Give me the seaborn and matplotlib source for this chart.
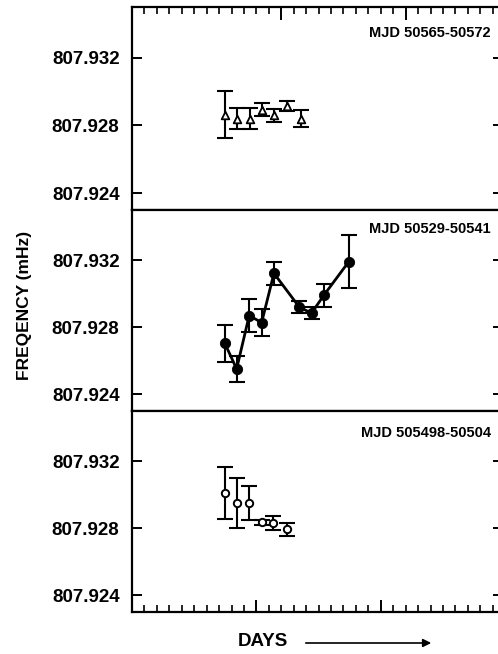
import matplotlib
matplotlib.use("Agg")
import matplotlib.pyplot as plt
import seaborn as sns
import pandas as pd
from matplotlib.ticker import FixedLocator, MultipleLocator, FormatStrFormatter, NullFormatter

# =========================
# DATA
# =========================
top_days = [7.47, 8.46, 9.48, 10.42, 11.41, 12.42, 13.55]
top_freq = [807.92864, 807.92839, 807.92839, 807.92894, 807.92860, 807.92917, 807.92840]
top_err = [0.00140, 0.00062, 0.00062, 0.00037, 0.00040, 0.00030, 0.00051]

mid_days = [7.47, 8.41, 9.42, 10.42, 11.41, 13.44, 14.43, 15.42, 17.43]
mid_freq = [807.92703, 807.92551, 807.92870, 807.92828, 807.93122,
            807.92921, 807.92884, 807.92991, 807.93192]
mid_err = [0.00110, 0.00077, 0.00098, 0.00080, 0.00067, 0.00036, 0.00037, 0.00070, 0.00160]

bot_days = [7.47, 8.41, 9.42, 10.42, 11.35, 12.42]
bot_freq = [807.93010, 807.92950, 807.92950, 807.92837, 807.92831, 807.92794]
bot_err = [0.00157, 0.00150, 0.00100, 0.00015, 0.00043, 0.00040]

panel_labels = ["MJD 50565-50572", "MJD 50529-50541", "MJD 505498-50504"]
ytick_vals = [807.924, 807.928, 807.932]

# =========================
# STYLE
# =========================
sns.set_theme(style="white")
plt.rcParams["font.family"] = ["Liberation Sans", "DejaVu Sans"]
plt.rcParams["font.weight"] = "bold"
plt.rcParams["axes.linewidth"] = 1.6
plt.rcParams["text.color"] = "black"
plt.rcParams["axes.labelcolor"] = "black"
plt.rcParams["xtick.color"] = "black"
plt.rcParams["ytick.color"] = "black"
plt.rcParams["axes.edgecolor"] = "black"

fig = plt.figure(figsize=(4.98, 6.54), dpi=100)

W, H = 498, 654
left = 132 / W
width = 367 / W
panels = [(7, 210), (210, 411), (411, 612)]
axes = []
for top_px, bot_px in panels:
    ax = fig.add_axes([left, 1 - bot_px / H, width, (bot_px - top_px) / H])
    axes.append(ax)

ax_top, ax_mid, ax_bot = axes

# top: open triangles
ax_top.errorbar(top_days, top_freq, yerr=top_err, fmt="none", ecolor="black",
                elinewidth=1.5, capsize=6, capthick=1.5, zorder=2)
sns.scatterplot(x=top_days, y=top_freq, ax=ax_top, marker="^", s=30,
                facecolor="white", edgecolor="black", linewidth=1.3, zorder=3)

# middle: filled circles joined by a line
mid_df = pd.DataFrame({"day": mid_days, "freq": mid_freq})
ax_mid.errorbar(mid_days, mid_freq, yerr=mid_err, fmt="none", ecolor="black",
                elinewidth=1.5, capsize=6, capthick=1.5, zorder=2)
sns.lineplot(data=mid_df, x="day", y="freq", ax=ax_mid, color="black",
             linewidth=2, sort=False, zorder=3)
sns.scatterplot(data=mid_df, x="day", y="freq", ax=ax_mid, marker="o", s=55,
                color="black", edgecolor="black", zorder=4)

# bottom: open circles
ax_bot.errorbar(bot_days, bot_freq, yerr=bot_err, fmt="none", ecolor="black",
                elinewidth=1.5, capsize=6, capthick=1.5, zorder=2)
sns.scatterplot(x=bot_days, y=bot_freq, ax=ax_bot, marker="o", s=28,
                facecolor="white", edgecolor="black", linewidth=1.4, zorder=3)

label_y = [0.874, 0.903, 0.893]
for ax, lab, ly in zip(axes, panel_labels, label_y):
    ax.set_xlim(0, 29.5)
    ax.set_ylim(807.923, 807.935)
    ax.set_xlabel("")
    ax.set_ylabel("")
    ax.yaxis.set_major_locator(FixedLocator(ytick_vals))
    ax.yaxis.set_major_formatter(FormatStrFormatter("%.3f"))
    ax.tick_params(axis="y", which="major", direction="in", left=True, right=True,
                   length=7, width=1.4, labelsize=13.5, pad=9, colors="black")
    ax.tick_params(axis="x", which="both", bottom=False, top=False, labelbottom=False)
    for lbl in ax.get_yticklabels():
        lbl.set_fontweight("bold")
    ax.spines["right"].set_visible(False)
    ax.text(0.978, ly, lab, transform=ax.transAxes, ha="right", va="center",
            fontsize=10.5, fontweight="bold", color="black")

# short right ticks
for ax in axes:
    for t in ax.yaxis.get_major_ticks():
        t.tick2line.set_markersize(4)

# bottom ticks on lowest panel
ax_bot.xaxis.set_major_locator(FixedLocator([10, 20]))
ax_bot.xaxis.set_minor_locator(MultipleLocator(1))
ax_bot.xaxis.set_major_formatter(NullFormatter())
ax_bot.tick_params(axis="x", which="major", bottom=True, direction="in", length=9, width=1.4)
ax_bot.tick_params(axis="x", which="minor", bottom=True, direction="in", length=5, width=1.2)

# top ticks on highest panel
ax_top.xaxis.set_major_locator(FixedLocator([12, 22]))
ax_top.xaxis.set_minor_locator(MultipleLocator(1))
ax_top.xaxis.set_major_formatter(NullFormatter())
ax_top.tick_params(axis="x", which="major", top=True, direction="in", length=9, width=1.4)
ax_top.tick_params(axis="x", which="minor", top=True, direction="in", length=5, width=1.2)

fig.text(25 / W, 1 - 305 / H, "FREQENCY (mHz)", rotation=90, ha="center", va="center",
         fontsize=12.5, fontweight="bold", color="black")
fig.text(263 / W, 1 - 642 / H, "DAYS", ha="center", va="center",
         fontsize=13.5, fontweight="bold", color="black")
fig.patches.append(matplotlib.patches.FancyArrowPatch(
    (303 / W, 1 - 643 / H), (434 / W, 1 - 643 / H), transform=fig.transFigure,
    arrowstyle="-|>", mutation_scale=12, color="black", linewidth=1.2))

fig.savefig("out.png", dpi=100)
